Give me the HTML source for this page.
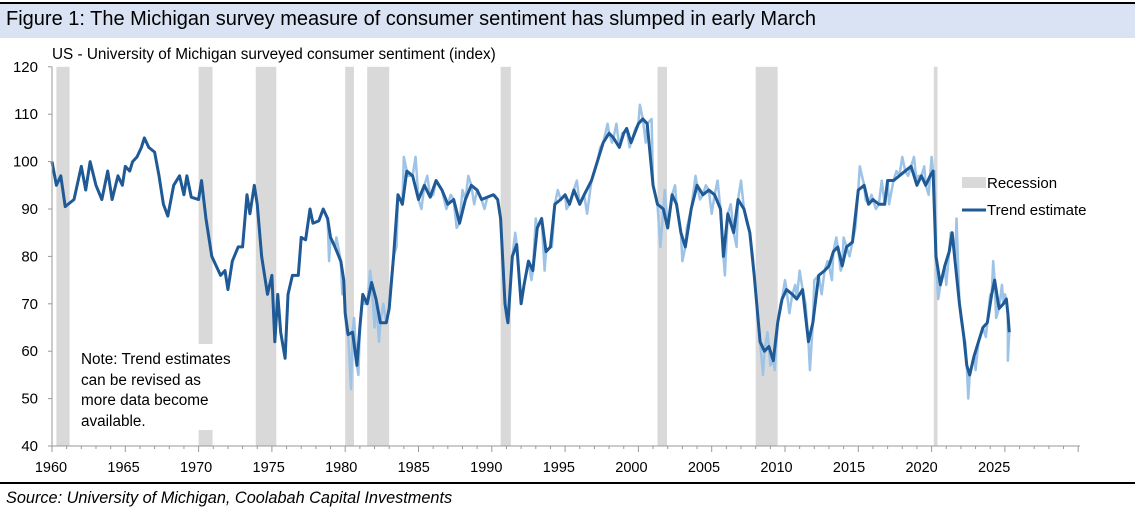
<!DOCTYPE html>
<html><head><meta charset="utf-8"><style>
body{margin:0;width:1135px;height:510px;background:#fff;overflow:hidden;font-family:"Liberation Sans",sans-serif}
</style></head><body>
<svg id="c" width="1135" height="510" xmlns="http://www.w3.org/2000/svg">
<rect x="0" y="3" width="1135" height="35" fill="#dae3f3"/>
<rect x="0" y="2" width="1135" height="2" fill="#000"/>
<text x="6" y="25" font-size="20" fill="#000">Figure 1:  The Michigan survey measure of consumer sentiment has slumped in early March</text>
<text x="52" y="59" font-size="15.3" fill="#000">US - University of Michigan surveyed consumer sentiment (index)</text>
<g id="rec"></g>
<g id="raw"></g>
<g id="trend"></g>
<rect x="70" y="344" width="170" height="86" fill="#fff"/>
<text font-size="15.3" fill="#000"><tspan x="81" y="364">Note: Trend estimates</tspan><tspan x="81" y="385">can be revised as</tspan><tspan x="81" y="405">more data become</tspan><tspan x="81" y="426">available.</tspan></text>
<g id="axes"></g>
<rect x="962" y="177" width="24" height="11" fill="#d9d9d9"/>
<text x="987" y="188" font-size="15">Recession</text>
<line x1="962" y1="210" x2="986" y2="210" stroke="#1f5a96" stroke-width="3"/>
<text x="987" y="215" font-size="15">Trend estimate</text>
<rect x="0" y="482" width="1135" height="2" fill="#000"/>
<text x="6" y="503" font-size="16.3" font-style="italic">Source: University of Michigan,  Coolabah Capital Investments</text>
</svg>
<script>
const recStart=[1960.3,1970.0,1973.9,1980.0,1981.5,1990.6,2001.3,2008.0,2020.15];
const recEnd=[1961.2,1970.95,1975.3,1980.6,1983.0,1991.3,2001.95,2009.5,2020.4];
const trendYears=[1960.0,1960.3,1960.6,1960.9,1961.5,1962,1962.3,1962.6,1963,1963.4,1963.8,1964.1,1964.5,1964.8,1965,1965.3,1965.5,1965.8,1966.1,1966.3,1966.6,1967,1967.3,1967.6,1967.9,1968.3,1968.7,1969,1969.2,1969.5,1970,1970.2,1970.5,1970.9,1971.2,1971.5,1971.8,1972,1972.3,1972.7,1973,1973.3,1973.5,1973.8,1974,1974.3,1974.7,1975,1975.2,1975.4,1975.6,1975.9,1976.1,1976.4,1976.8,1977,1977.3,1977.6,1977.8,1978.2,1978.5,1978.8,1979,1979.3,1979.7,1979.9,1980,1980.2,1980.5,1980.8,1981,1981.2,1981.5,1981.8,1982.1,1982.4,1982.8,1983,1983.3,1983.6,1983.9,1984.2,1984.6,1985,1985.4,1985.8,1986.2,1986.6,1987,1987.4,1987.8,1988.2,1988.6,1989,1989.3,1989.7,1990.1,1990.4,1990.6,1990.9,1991.1,1991.4,1991.7,1992,1992.2,1992.5,1992.8,1993.1,1993.4,1993.7,1994,1994.3,1994.7,1995,1995.3,1995.6,1996,1996.3,1996.8,1997.2,1997.6,1998,1998.3,1998.7,1999,1999.2,1999.5,2000,2000.3,2000.6,2001,2001.3,2001.7,2002,2002.3,2002.6,2002.9,2003.2,2003.6,2004,2004.4,2004.8,2005.2,2005.6,2005.8,2006.1,2006.5,2006.8,2007.2,2007.6,2007.9,2008.3,2008.6,2008.9,2009.2,2009.5,2009.8,2010.1,2010.5,2010.8,2011.2,2011.6,2011.9,2012.3,2012.7,2013,2013.3,2013.6,2013.9,2014.2,2014.6,2015,2015.4,2015.7,2016,2016.4,2016.8,2017,2017.4,2017.8,2018.2,2018.6,2019,2019.3,2019.6,2019.9,2020.1,2020.3,2020.6,2020.9,2021.2,2021.4,2021.6,2021.9,2022.2,2022.4,2022.6,2022.9,2023.2,2023.5,2023.8,2024.1,2024.3,2024.6,2024.9,2025.1,2025.2,2025.3];
const trendValues=[100,95,97,90.5,92,99,94,100,95,92,98,92,97,95,99,98,100,101,103,105,103,102,97,91,88.5,95,97,93,97,92.5,92,96,88,80,78,76,77,73,79,82,82,93,89,95,91,80,72,76,62,72,64,58.5,72,76,76,84,83.5,90,87,87.5,90,88,84,82,79,75,68,63.5,64,57,65,72,70,74.5,71,66,66,69,80,93,91,98,97,92,95,92.5,96,94,91,92,87,92,95,94,92,92.5,93,92,88,70,66,80,82.5,70,74,79,77,86,88,81,82,91,92,93,91,94,91,93,96,100,104,106,105,103,106,107,104,108,109,108,95,91,90,86,93,91,85,82,90,95,93,94,93,90,80,89,85,92,90,85,76,62,60,61,58,66,71,73,72,71,73,62,66,76,77,78,81,82,78,82,83,94,95,91,92,91,91,96,96,97,98,99,95,97,95,97,98,80,74,78,81,85,79,70,63,57,55,59,62,65,66,72,75,69,70,71,68,64];
const rawYears=[1978.9,1979.4,1979.8,1980.1,1980.4,1980.6,1980.9,1981.3,1981.7,1982.0,1982.3,1982.6,1983.1,1983.5,1983.8,1984.0,1984.3,1984.8,1985.2,1985.6,1986.0,1986.4,1986.9,1987.2,1987.6,1988.0,1988.4,1988.8,1989.5,1990.2,1990.8,1991.0,1991.6,1992.1,1992.7,1993.0,1993.6,1994.1,1994.5,1995.1,1995.8,1996.5,1997.0,1997.4,1997.9,1998.2,1998.5,1998.9,1999.4,1999.8,2000.1,2000.5,2000.9,2001.5,2001.8,2002.1,2002.5,2003.0,2003.3,2003.9,2004.2,2004.6,2005.0,2005.4,2005.7,2005.9,2006.3,2006.7,2007.0,2007.4,2007.8,2008.2,2008.5,2008.8,2009.0,2009.3,2009.7,2010.0,2010.3,2010.7,2011.0,2011.4,2011.7,2012.0,2012.5,2012.9,2013.2,2013.5,2013.8,2014.0,2014.4,2014.8,2015.1,2015.5,2015.9,2016.2,2016.6,2017.1,2017.6,2018.0,2018.4,2018.8,2019.1,2019.5,2019.8,2020.0,2020.2,2020.45,2020.8,2021.0,2021.3,2021.5,2021.7,2022.0,2022.3,2022.5,2022.8,2023.0,2023.4,2023.7,2024.0,2024.2,2024.4,2024.8,2025.0,2025.2];
const rawValues=[79,84,72,64,52,67,55,70,77,65,62,70,74,82,92,101,97,101,90,97,93,95,90,93,86,94,97,91,90,93,77,67,85,72,75,88,77,82,94,90,96,89,98,103,108,104,108,106,103,107,112,104,109,82,94,88,95,79,86,97,92,95,89,96,85,76,91,82,96,87,80,65,55,64,57,56,70,75,68,74,77,70,56,75,72,79,75,84,77,84,80,86,99,92,93,90,96,91,98,101,97,101,97,99,93,101,98,71,76,74,85,82,88,67,62,50,58,56,64,63,72,79,67,74,72,58];
const yTicks=[40,50,60,70,80,90,100,110,120];
const xTickLabels=[1960,1965,1970,1975,1980,1985,1990,1995,2000,2005,2010,2015,2020,2025];
const X0=52,PX=14.66,Y0=446,PY=4.74;
const sx=y=>X0+(y-1960)*PX, sy=v=>Y0-(v-40)*PY;
const NS="http://www.w3.org/2000/svg";
function mk(t,a,p){const e=document.createElementNS(NS,t);for(const k in a)e.setAttribute(k,a[k]);p.appendChild(e);return e;}
const rec=document.getElementById('rec');
recStart.forEach((s,i)=>{const r=mk('rect',{x:sx(s),y:sy(120),width:sx(recEnd[i])-sx(s),height:sy(40)-sy(120),fill:'#d9d9d9'},rec);

});
const pts=trendYears.map((y,i)=>[y,trendValues[i]]).concat(rawYears.map((y,i)=>[y,rawValues[i]])).sort((a,b)=>a[0]-b[0]);
const rawP=mk('polyline',{points:pts.map(p=>sx(p[0])+','+sy(p[1])).join(' '),fill:'none',stroke:'#9dc3e6','stroke-width':2.5,'stroke-linejoin':'round'},document.getElementById('raw'));


const tl=mk('polyline',{points:trendYears.map((y,i)=>sx(y)+','+sy(trendValues[i])).join(' '),fill:'none',stroke:'#1f5a96','stroke-width':3,'stroke-linejoin':'round'},document.getElementById('trend'));


const ax=document.getElementById('axes');
mk('line',{x1:X0,y1:sy(40),x2:X0,y2:sy(120),stroke:'#999'},ax);
mk('line',{x1:X0,y1:sy(40),x2:1080,y2:sy(40),stroke:'#999'},ax);
yTicks.forEach(v=>{mk('line',{x1:X0-4,y1:sy(v),x2:X0,y2:sy(v),stroke:'#999'},ax);
const t=mk('text',{x:38,y:sy(v)+5,'font-size':15,'text-anchor':'end'},ax);t.textContent=v;

});
for(let y=1960;y<=2030;y++){mk('line',{x1:sx(y),y1:sy(40),x2:sx(y),y2:sy(40)+(y%5?3:6),stroke:'#999'},ax);}
xTickLabels.forEach(y=>{const t=mk('text',{x:sx(y)-1-(y-1960)*0.15,y:472,'font-size':14.5,'text-anchor':'middle'},ax);t.textContent=y;

});
</script>
</body></html>
